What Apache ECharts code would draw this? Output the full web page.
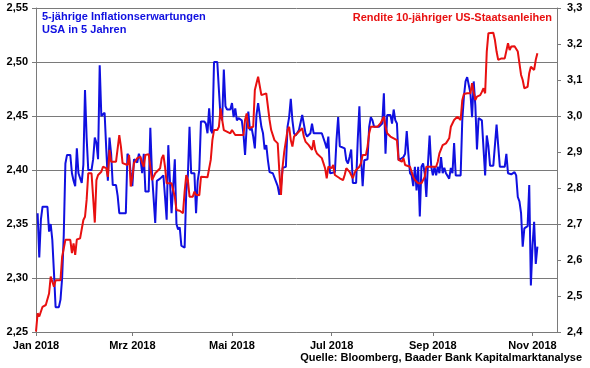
<!DOCTYPE html>
<html><head><meta charset="utf-8">
<script src="https://cdn.jsdelivr.net/npm/echarts@6/dist/echarts.min.js"></script>
<style>html,body{margin:0;padding:0;background:#fff}#c{width:590px;height:368px}</style>
</head><body><div id="c"></div>
<script>
const year = 2018;
const monthNames = ['Jan','Feb','Mrz','Apr','Mai','Jun','Jul','Aug','Sep','Okt','Nov','Dez'];
const tickMonths = [0, 2, 4, 6, 8, 10];
const xRange = ['01-01', '11-16'];
const leftAxisRange = [2.25, 2.55, 0.05];
const rightAxisRange = [2.4, 3.3, 0.1];
const blueTitle = '5-jährige Inflationserwartungen\nUSA in 5 Jahren';
const redTitle = 'Rendite 10-jähriger US-Staatsanleihen';
const sourceText = 'Quelle: Bloomberg, Baader Bank Kapitalmarktanalyse';

// 5-jährige Inflationserwartungen USA in 5 Jahren (linke Achse)
const inflationSeries = [
['01-02',2.360],['01-03',2.319],['01-04',2.354],['01-05',2.366],['01-08',2.366],['01-09',2.343],['01-10',2.350],['01-11',2.335],['01-12',2.305],['01-13',2.273],['01-15',2.273],['01-16',2.280],['01-17',2.300],['01-18',2.340],['01-19',2.406],['01-20',2.414],['01-22',2.414],['01-23',2.397],['01-24',2.390],['01-25',2.385],['01-26',2.420],['01-27',2.397],['01-28',2.397],['01-29',2.388],['01-30',2.405],['01-31',2.474],
['02-01',2.430],['02-02',2.400],['02-04',2.400],['02-05',2.410],['02-06',2.430],['02-07',2.425],['02-08',2.410],['02-09',2.497],['02-10',2.450],['02-12',2.453],['02-13',2.420],['02-14',2.390],['02-15',2.430],['02-16',2.415],['02-17',2.386],['02-19',2.386],['02-20',2.376],['02-21',2.360],['02-25',2.360],['02-26',2.415],['02-27',2.412],['02-28',2.397],
['03-01',2.385],['03-02',2.410],['03-04',2.407],['03-05',2.415],['03-06',2.410],['03-07',2.397],['03-08',2.415],['03-09',2.380],['03-11',2.380],['03-12',2.439],['03-13',2.397],['03-15',2.351],['03-16',2.390],['03-18',2.392],['03-20',2.395],['03-21',2.375],['03-22',2.354],['03-23',2.423],['03-24',2.390],['03-25',2.360],['03-26',2.385],['03-27',2.410],['03-28',2.350],['03-29',2.345],['03-30',2.347],['03-31',2.330],
['04-02',2.328],['04-03',2.380],['04-04',2.395],['04-05',2.440],['04-06',2.397],['04-08',2.397],['04-09',2.360],['04-10',2.390],['04-11',2.400],['04-12',2.445],['04-14',2.445],['04-15',2.443],['04-16',2.434],['04-17',2.457],['04-18',2.437],['04-19',2.434],['04-20',2.500],['04-22',2.500],['04-23',2.474],['04-24',2.449],['04-25',2.446],['04-26',2.493],['04-27',2.459],['04-28',2.456],['04-30',2.456],
['05-01',2.462],['05-02',2.449],['05-03',2.457],['05-04',2.446],['05-05',2.448],['05-07',2.446],['05-08',2.434],['05-09',2.414],['05-10',2.440],['05-11',2.454],['05-12',2.437],['05-13',2.439],['05-14',2.431],['05-15',2.420],['05-16',2.451],['05-17',2.462],['05-19',2.440],['05-20',2.434],['05-21',2.419],['05-22',2.423],['05-23',2.409],['05-24',2.398],['05-26',2.397],['05-27',2.398],['05-29',2.385],['05-30',2.377],['05-31',2.385],
['06-01',2.402],['06-03',2.403],['06-04',2.440],['06-05',2.449],['06-06',2.466],['06-07',2.446],['06-08',2.434],['06-09',2.432],['06-11',2.437],['06-13',2.451],['06-14',2.452],['06-15',2.434],['06-16',2.431],['06-17',2.432],['06-18',2.434],['06-19',2.443],['06-20',2.434],['06-21',2.435],['06-25',2.434],['06-26',2.435],['06-27',2.425],['06-28',2.420],['06-29',2.431],['06-30',2.397],
['07-03',2.398],['07-04',2.428],['07-05',2.449],['07-06',2.422],['07-09',2.420],['07-10',2.409],['07-11',2.406],['07-12',2.412],['07-13',2.419],['07-14',2.388],['07-16',2.388],['07-17',2.428],['07-18',2.459],['07-19',2.412],['07-20',2.385],['07-21',2.409],['07-23',2.410],['07-24',2.440],['07-25',2.449],['07-26',2.446],['07-27',2.440],['07-30',2.440],['07-31',2.439],
['08-01',2.443],['08-02',2.471],['08-03',2.415],['08-04',2.451],['08-06',2.451],['08-07',2.443],['08-08',2.456],['08-09',2.446],['08-10',2.443],['08-11',2.409],['08-14',2.412],['08-15',2.415],['08-16',2.436],['08-17',2.415],['08-18',2.397],['08-19',2.395],['08-20',2.385],['08-21',2.403],['08-22',2.381],['08-23',2.403],['08-24',2.357],['08-25',2.403],['08-26',2.406],['08-27',2.397],['08-28',2.375],['08-29',2.406],['08-30',2.432],['08-31',2.403],
['09-01',2.395],['09-02',2.403],['09-03',2.395],['09-04',2.403],['09-05',2.397],['09-06',2.412],['09-07',2.397],['09-08',2.402],['09-09',2.397],['09-11',2.392],['09-12',2.402],['09-13',2.397],['09-14',2.425],['09-15',2.395],['09-18',2.395],['09-19',2.446],['09-20',2.468],['09-21',2.482],['09-22',2.486],['09-23',2.486],['09-24',2.471],['09-25',2.449],['09-26',2.482],['09-27',2.460],['09-28',2.419],['09-29',2.448],['09-30',2.448],
['10-01',2.446],['10-02',2.420],['10-03',2.395],['10-04',2.432],['10-05',2.422],['10-06',2.404],['10-08',2.404],['10-09',2.403],['10-10',2.442],['10-11',2.442],['10-12',2.403],['10-15',2.403],['10-16',2.415],['10-17',2.397],['10-18',2.398],['10-19',2.396],['10-21',2.398],['10-22',2.395],['10-23',2.375],['10-24',2.371],['10-25',2.360],['10-26',2.329],['10-27',2.346],['10-29',2.348],['10-30',2.386],['10-31',2.293],
['11-01',2.330],['11-02',2.352],['11-03',2.313],['11-04',2.329]
];

// Rendite 10-jähriger US-Staatsanleihen (rechte Achse)
const yieldSeries = [
['01-01',2.401],['01-02',2.452],['01-03',2.443],['01-04',2.447],['01-05',2.470],['01-07',2.475],['01-08',2.475],['01-09',2.507],['01-10',2.554],['01-11',2.554],['01-12',2.526],['01-13',2.544],['01-16',2.544],['01-17',2.609],['01-19',2.656],['01-22',2.656],['01-23',2.619],['01-24',2.646],['01-25',2.614],['01-26',2.657],['01-28',2.660],['01-29',2.665],['01-30',2.711],['01-31',2.720],
['02-01',2.767],['02-02',2.841],['02-04',2.841],['02-05',2.843],['02-06',2.704],['02-07',2.822],['02-08',2.836],['02-09',2.836],['02-10',2.845],['02-11',2.859],['02-12',2.855],['02-13',2.855],['02-14',2.831],['02-15',2.906],['02-16',2.873],['02-19',2.873],['02-20',2.878],['02-21',2.947],['02-22',2.915],['02-23',2.869],['02-26',2.864],['02-27',2.892],['02-28',2.804],
['03-01',2.831],['03-02',2.869],['03-03',2.869],['03-04',2.883],['03-06',2.887],['03-07',2.869],['03-08',2.859],['03-09',2.892],['03-11',2.894],['03-12',2.859],['03-13',2.822],['03-14',2.831],['03-15',2.841],['03-16',2.843],['03-18',2.855],['03-19',2.883],['03-20',2.892],['03-21',2.859],['03-22',2.813],['03-25',2.813],['03-26',2.794],['03-27',2.776],['03-28',2.739],['03-30',2.737],
['04-01',2.730],['04-02',2.790],['04-03',2.836],['04-04',2.822],['04-05',2.776],['04-07',2.776],['04-08',2.790],['04-09',2.781],['04-11',2.780],['04-12',2.831],['04-16',2.830],['04-17',2.831],['04-18',2.878],['04-19',2.933],['04-20',2.961],['04-22',2.961],['04-23',2.970],['04-24',3.021],['04-25',2.989],['04-26',2.961],['04-27',2.956],['04-30',2.952],
['05-01',2.961],['05-02',2.966],['05-03',2.947],['05-06',2.947],['05-07',2.952],['05-08',2.947],['05-09',2.989],['05-10',3.007],['05-11',2.966],['05-12',2.970],['05-14',2.970],['05-15',3.072],['05-16',3.091],['05-17',3.109],['05-19',3.058],['05-20',3.058],['05-22',3.063],['05-23',3.058],['05-24',2.989],['05-25',2.961],['05-27',2.933],['05-28',2.929],['05-29',2.924],['05-30',2.845],['05-31',2.781],
['06-01',2.859],['06-02',2.901],['06-03',2.906],['06-04',2.961],['06-05',2.970],['06-06',2.933],['06-07',2.915],['06-08',2.943],['06-09',2.947],['06-10',2.952],['06-11',2.956],['06-13',2.966],['06-14',2.943],['06-15',2.929],['06-16',2.924],['06-17',2.919],['06-18',2.915],['06-19',2.906],['06-20',2.933],['06-21',2.906],['06-22',2.896],['06-23',2.892],['06-25',2.883],['06-26',2.869],['06-27',2.855],['06-28',2.827],['06-29',2.859],['06-30',2.859],
['07-01',2.855],['07-02',2.864],['07-03',2.836],['07-04',2.831],['07-06',2.827],['07-08',2.822],['07-09',2.836],['07-10',2.855],['07-12',2.845],['07-13',2.841],['07-14',2.827],['07-15',2.841],['07-16',2.850],['07-17',2.855],['07-18',2.859],['07-19',2.869],['07-20',2.892],['07-22',2.892],['07-23',2.915],['07-24',2.952],['07-25',2.970],['07-26',2.975],['07-29',2.970],['07-30',2.970],['07-31',2.980],
['08-01',2.984],['08-02',2.998],['08-03',2.970],['08-04',2.952],['08-05',2.947],['08-06',2.943],['08-07',2.947],['08-08',2.938],['08-09',2.943],['08-10',2.933],['08-11',2.878],['08-13',2.873],['08-14',2.883],['08-15',2.864],['08-16',2.859],['08-18',2.859],['08-19',2.855],['08-20',2.831],['08-21',2.822],['08-22',2.817],['08-23',2.813],['08-25',2.813],['08-26',2.808],['08-27',2.831],['08-28',2.859],
['09-03',2.859],['09-04',2.873],['09-05',2.896],['09-06',2.896],['09-07',2.919],['09-08',2.924],['09-09',2.924],['09-11',2.938],['09-12',2.970],['09-13',2.970],['09-14',2.989],['09-15',2.989],['09-16',2.998],['09-17',2.998],['09-18',2.989],['09-19',3.044],['09-20',3.061],['09-22',3.063],['09-23',3.061],['09-24',3.063],['09-25',3.091],['09-26',3.067],['09-27',3.044],['09-28',3.054],['09-29',3.054],['09-30',3.058],
['10-01',3.067],['10-02',3.077],['10-03',3.063],['10-04',3.179],['10-05',3.230],['10-08',3.231],['10-09',3.211],['10-10',3.179],['10-11',3.156],['10-12',3.156],['10-13',3.160],['10-15',3.160],['10-16',3.156],['10-17',3.202],['10-18',3.183],['10-19',3.193],['10-20',3.188],['10-21',3.194],['10-22',3.197],['10-23',3.179],['10-24',3.146],['10-25',3.114],['10-26',3.100],['10-27',3.077],['10-28',3.077],['10-29',3.081],['10-30',3.119],['10-31',3.137],
['11-01',3.142],['11-02',3.128],['11-03',3.156],['11-04',3.174]
];

const toTime = md => { const p = md.split('-'); return new Date(year, +p[0] - 1, +p[1]).getTime(); };
const toData = arr => arr.map(p => [toTime(p[0]), p[1]]);
const tickValues = tickMonths.map(m => new Date(year, m, 1).getTime());
const FONT = '"Liberation Sans", Arial, sans-serif';
const BLUE = '#1010e0';
const RED = '#e81010';
const GRID = '#7a7a7a';

const chart = echarts.init(document.getElementById('c'), null, {renderer: 'canvas'});
chart.setOption({
  animation: false,
  backgroundColor: '#fff',
  grid: {left: 36, right: 33, top: 8, bottom: 36, containLabel: false},
  xAxis: {
    type: 'value',
    min: toTime(xRange[0]), max: toTime(xRange[1]),
    axisLine: {show: true, onZero: false, lineStyle: {color: GRID, width: 1}},
    axisTick: {show: true, length: 4, customValues: tickValues, lineStyle: {color: GRID}},
    splitLine: {show: false},
    axisLabel: {
      customValues: tickValues,
      margin: 8,
      color: '#000', fontFamily: FONT, fontSize: 11, fontWeight: 'bold',
      formatter: v => { const d = new Date(v); return monthNames[d.getMonth()] + ' ' + d.getFullYear(); }
    }
  },
  yAxis: [{
    type: 'value', position: 'left',
    min: leftAxisRange[0], max: leftAxisRange[1], interval: leftAxisRange[2],
    axisLine: {show: true, lineStyle: {color: GRID}},
    axisTick: {show: true, length: 4, lineStyle: {color: GRID}},
    splitLine: {show: true, lineStyle: {color: GRID, width: 1}},
    axisLabel: {margin: 8, color: '#000', fontFamily: FONT, fontSize: 11, fontWeight: 'bold',
      formatter: v => v.toFixed(2).replace('.', ',')}
  }, {
    type: 'value', position: 'right',
    min: rightAxisRange[0], max: rightAxisRange[1], interval: rightAxisRange[2],
    axisLine: {show: true, lineStyle: {color: GRID}},
    axisTick: {show: true, length: 4, lineStyle: {color: GRID}},
    splitLine: {show: false},
    axisLabel: {margin: 10, color: '#000', fontFamily: FONT, fontSize: 11, fontWeight: 'bold',
      formatter: v => v.toFixed(1).replace('.', ',')}
  }],
  series: [{
    name: 'Inflationserwartungen', type: 'line', yAxisIndex: 0,
    data: toData(inflationSeries), showSymbol: false, symbol: 'none',
    lineStyle: {color: BLUE, width: 2}, itemStyle: {color: BLUE}, z: 2
  }, {
    name: 'Rendite', type: 'line', yAxisIndex: 1,
    data: toData(yieldSeries), showSymbol: false, symbol: 'none',
    lineStyle: {color: RED, width: 2}, itemStyle: {color: RED}, z: 3
  }],
  graphic: [
    {type: 'text', left: 42, top: 10, z: 10, style: {text: blueTitle, fill: BLUE, font: 'bold 11px ' + FONT, lineHeight: 13.5}},
    {type: 'text', right: 38, top: 12, z: 10, style: {text: redTitle, fill: RED, font: 'bold 11px ' + FONT}},
    {type: 'text', right: 8, top: 352, z: 10, style: {text: sourceText, fill: '#000', font: 'bold 11px ' + FONT}}
  ]
});
</script>
</body></html>
